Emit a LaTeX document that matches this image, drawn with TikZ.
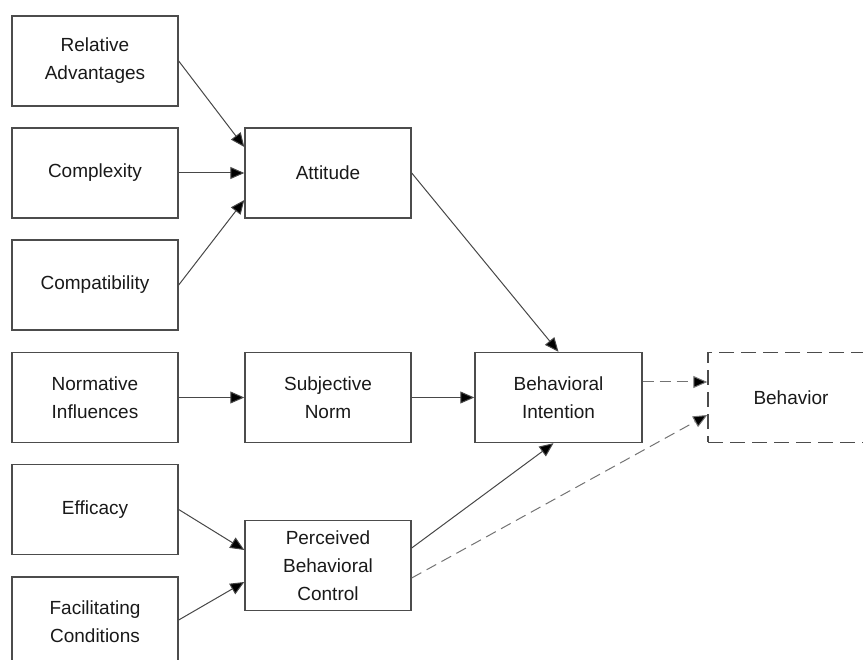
\documentclass[tikz,border=0pt]{standalone}
\usepackage{fontspec}
\setmainfont{Liberation Sans}
\usetikzlibrary{arrows.meta,calc}
\begin{document}
\begin{tikzpicture}[x=1pt,y=-1pt,
  box/.style={draw=black!70, line width=1.4pt, rectangle, minimum width=166pt,
    minimum height=90pt, inner sep=0pt, align=center, text=black!90,
    font=\fontsize{19}{28}\selectfont},
  dashbox/.style={box, dash pattern=on 15pt off 7pt},
  link/.style={draw=black!72, line width=1pt,
    -{Triangle[length=14pt,width=12pt,fill=black]}},
  dlink/.style={link, draw=black!55, dash pattern=on 11pt off 6pt}]
\useasboundingbox (0,0) rectangle (863,660);

% inputs
\node[box] (ra) at (95,61)    {Relative\\Advantages};
\node[box] (cx) at (95,173)   {Complexity};
\node[box] (cp) at (95,285)   {Compatibility};
\node[box] (ni) at (95,397.5) {Normative\\Influences};
\node[box] (ef) at (95,509.5) {Efficacy};
\node[box] (fc) at (95,622)   {Facilitating\\Conditions};

% beliefs
\node[box] (att) at (328,173)   {Attitude};
\node[box] (sn)  at (328,397.5) {Subjective\\Norm};
\node[box] (pbc) at (328,565.5) {Perceived\\Behavioral\\Control};

% intention and behavior
\node[box, minimum width=167pt] (bi) at (558.5,397.5) {Behavioral\\Intention};
\node[dashbox] (beh) at (791,397.5) {Behavior};

% connectors
\draw[link] (ra.east) -- ($(att.west)+(0,-26)$);
\draw[link] (cx.east) -- (att.west);
\draw[link] (cp.east) -- ($(att.west)+(0,27)$);
\draw[link] (att.east) -- (bi.north);
\draw[link] (ni.east) -- (sn.west);
\draw[link] (sn.east) -- (bi.west);
\draw[link] (ef.east) -- ($(pbc.west)+(0,-15.5)$);
\draw[link] ($(fc.east)+(0,-2)$) -- ($(pbc.west)+(0,16.5)$);
\draw[link] ($(pbc.east)+(0,-17.5)$) -- ($(bi.south)+(-5,0)$);
\draw[dlink] ($(pbc.east)+(0,12.5)$) -- ($(beh.west)+(0,17.5)$);
\draw[dlink] ($(bi.east)+(0,-15.5)$) -- ($(beh.west)+(0,-15.5)$);
\end{tikzpicture}
\end{document}
